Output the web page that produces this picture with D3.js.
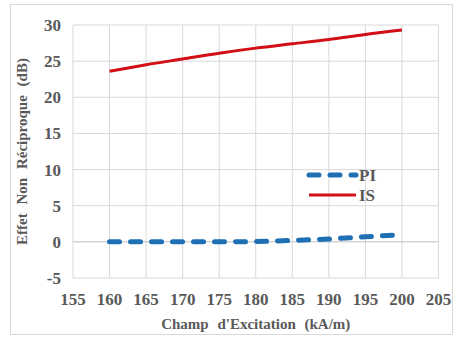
<!DOCTYPE html>
<html>
<head>
<meta charset="utf-8">
<script src="https://cdn.jsdelivr.net/npm/d3@7"></script>
<style>
  body { margin: 0; background: #fff; }
</style>
</head>
<body>
<svg id="chart" width="454" height="337" font-family="'Liberation Serif', 'DejaVu Serif', serif"></svg>
<script>
// data
const champ = [160, 165, 170, 175, 180, 185, 190, 195, 200];
const valuesPI = [0, 0, 0, 0, 0.05, 0.2, 0.4, 0.7, 1.0];
const valuesIS = [23.6, 24.5, 25.3, 26.1, 26.8, 27.4, 28.0, 28.7, 29.3];
const xTicks = [155, 160, 165, 170, 175, 180, 185, 190, 195, 200, 205];
const yTicks = [-5, 0, 5, 10, 15, 20, 25, 30];

const svg = d3.select('#chart');
const margin = { left: 73, right: 15.5, top: 25, bottom: 59 };
const width = 454, height = 337;

// chart border
svg.append("rect")
    .attr("x", 10.5).attr("y", 4.5)
    .attr("width", 442).attr("height", 330)
    .attr("fill", "none")
    .attr("stroke", "#d9d9d9");

const x = d3.scaleLinear().domain([155, 205]).range([margin.left, width - margin.right]);
const y = d3.scaleLinear().domain([-5, 30]).range([height - margin.bottom, margin.top]);

// grid
svg.append("g").selectAll("line.v")
    .data(xTicks).enter().append("line")
    .attr("x1", d => x(d)).attr("x2", d => x(d))
    .attr("y1", y(-5)).attr("y2", y(30))
    .attr("stroke", "#d9d9d9").attr("stroke-width", 1);

svg.append("g").selectAll("line.h")
    .data(yTicks).enter().append("line")
    .attr("x1", x(155)).attr("x2", x(205))
    .attr("y1", d => y(d)).attr("y2", d => y(d))
    .attr("stroke", d => d === 0 ? "#bfbfbf" : "#d9d9d9").attr("stroke-width", 1);

// tick labels
svg.append("g").selectAll("text")
    .data(yTicks).enter().append("text")
    .attr("x", x(155) - 12)
    .attr("y", d => y(d))
    .attr("dy", "0.35em")
    .attr("text-anchor", "end")
    .attr("font-size", 17)
    .attr("font-weight", "bold")
    .attr("fill", "#595959")
    .text(d => d);

svg.append("g").selectAll("text")
    .data(xTicks).enter().append("text")
    .attr("x", d => x(d))
    .attr("y", 305)
    .attr("text-anchor", "middle")
    .attr("font-size", 17)
    .attr("font-weight", "bold")
    .attr("fill", "#595959")
    .text(d => d);

// axis titles
svg.append("text")
    .attr("x", (x(155) + x(205)) / 2)
    .attr("y", 329)
    .attr("text-anchor", "middle")
    .attr("font-size", 15)
    .attr("font-weight", "bold")
    .attr("fill", "#595959")
    .attr("word-spacing", 5)
    .text("Champ d'Excitation (kA/m)");

svg.append("text")
    .attr("transform", "translate(27," + ((y(-5) + y(30)) / 2) + ") rotate(-90)")
    .attr("text-anchor", "middle")
    .attr("font-size", 15)
    .attr("font-weight", "bold")
    .attr("fill", "#595959")
    .attr("word-spacing", 5)
    .text("Effet Non Réciproque (dB)");

// lines
const line = d3.line()
    .x((d, i) => x(champ[i]))
    .y(d => y(d))
    .curve(d3.curveMonotoneX);

svg.append("path")
    .attr("d", line(valuesPI))
    .attr("fill", "none")
    .attr("stroke", "#1f6fb4")
    .attr("stroke-width", 5)
    .attr("stroke-linecap", "round")
    .attr("stroke-dasharray", "10,11");

svg.append("path")
    .attr("d", line(valuesIS))
    .attr("fill", "none")
    .attr("stroke", "#d10f14")
    .attr("stroke-width", 3);

// legend
const legend = [
    { label: "PI", color: "#1f6fb4", width: 5, dash: "10,11", cap: "round", y: 175 },
    { label: "IS", color: "#d10f14", width: 3, dash: null, cap: "butt", y: 195 }
];
const lg = svg.append("g").selectAll("g")
    .data(legend).enter().append("g");

lg.append("line")
    .attr("x1", 309).attr("x2", 356)
    .attr("y1", d => d.y).attr("y2", d => d.y)
    .attr("stroke", d => d.color)
    .attr("stroke-width", d => d.width)
    .attr("stroke-linecap", d => d.cap)
    .attr("stroke-dasharray", d => d.dash);

lg.append("text")
    .attr("x", 359)
    .attr("y", d => d.y)
    .attr("dy", "0.35em")
    .attr("font-size", 17)
    .attr("font-weight", "bold")
    .attr("fill", "#595959")
    .text(d => d.label);
</script>
</body>
</html>
